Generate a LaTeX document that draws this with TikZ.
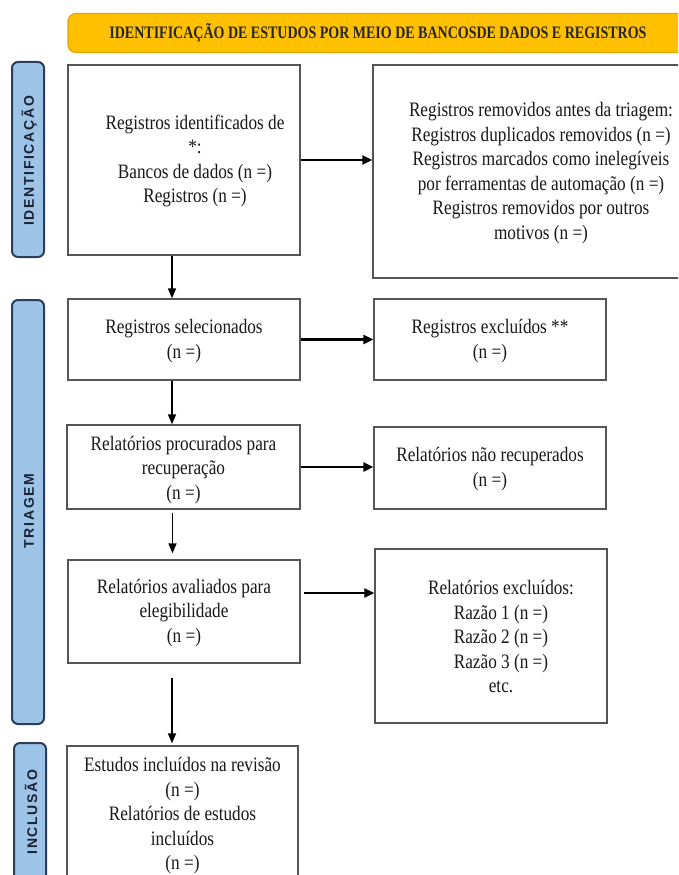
\documentclass[tikz,border=0pt]{standalone}
\usepackage{fontspec}
\setmainfont{Liberation Serif}[FakeStretch=0.84]
\newfontfamily\bannerfont{Liberation Serif}[FakeStretch=0.8]
\newfontfamily\sidefont{Liberation Sans}[LetterSpace=12]
\usetikzlibrary{arrows.meta}
\definecolor{gold}{HTML}{FFC000}
\definecolor{goldedge}{HTML}{E3A600}
\definecolor{sideblue}{HTML}{9DC3E6}
\definecolor{sideedge}{HTML}{2B3E5C}
\definecolor{sidetext}{HTML}{1A2233}
\definecolor{boxedge}{HTML}{555555}
\begin{document}
\begin{tikzpicture}[x=1pt,y=-1pt,
  box/.style={draw=boxedge,line width=1.3pt,fill=white,inner sep=0pt},
  txt/.style={align=center,inner sep=0pt,font=\fontsize{20.5}{24.5}\selectfont,text=black!90},
  sidebar/.style={draw=sideedge,fill=sideblue,line width=2pt,rounded corners=6pt,inner sep=0pt},
  sidelabel/.style={rotate=90,text=sidetext,font=\sidefont\bfseries\fontsize{14}{16}\selectfont},
  harrow/.style={-{Triangle[length=10pt,width=9pt]},line width=2.2pt},
  varrow/.style={-{Triangle[length=10pt,width=8pt]},line width=1.5pt}]
\clip (0,0) rectangle (678,875);
\fill[white] (0,0) rectangle (678,875);

% banner
\node[draw=goldedge,fill=gold,line width=1.2pt,rounded corners=8pt,minimum width=630pt,minimum height=39pt,inner sep=0pt]
  (banner) at (383,33) {};
\node[font=\bannerfont\bfseries\fontsize{17.5}{19}\selectfont,text=black!85] (bannert) at (378,33)
  {IDENTIFICAÇÃO DE ESTUDOS POR MEIO DE BANCOSDE DADOS E REGISTROS};

% side bars
\node[sidebar,minimum width=32pt,minimum height=195pt] (sid) at (28,159.5) {};
\node[sidelabel] (sidt) at (29,161) {IDENTIFICAÇÃO};
\node[sidebar,minimum width=32pt,minimum height=424pt] (stri) at (28,512) {};
\node[sidelabel] (strit) at (29,511) {TRIAGEM};
\node[sidebar,minimum width=32pt,minimum height=160pt] (sinc) at (30,823) {};
\node[sidelabel] (sinct) at (31,812) {INCLUSÃO};

% left column
\node[box,minimum width=232pt,minimum height=190pt] (b1) at (184,160) {};
\node[txt] (b1t) at (195,161) {Registros identificados de\\*:\\Bancos de dados (n =)\\Registros (n =)};
\node[box,minimum width=232pt,minimum height=81pt] (b2) at (184,339.5) {};
\node[txt] (b2t) at (184,341) {Registros selecionados\\(n =)};
\node[box,minimum width=233pt,minimum height=84pt] (b3) at (183.5,467) {};
\node[txt] (b3t) at (183.5,470) {Relatórios procurados para\\recuperação\\(n =)};
\node[box,minimum width=232pt,minimum height=103pt] (b4) at (184,611.5) {};
\node[txt] (b4t) at (184,613) {Relatórios avaliados para\\elegibilidade\\(n =)};
\node[box,minimum width=231pt,minimum height=150pt] (b5) at (182.5,821) {};
\node[txt] (b5t) at (182.5,816) {Estudos incluídos na revisão\\(n =)\\Relatórios de estudos\\incluídos\\(n =)};

% right column
\node[box,minimum width=336pt,minimum height=213pt] (r1) at (541,171.5) {};
\node[txt] (r1t) at (541,173) {Registros removidos antes da triagem:\\Registros duplicados removidos (n =)\\Registros marcados como inelegíveis\\por ferramentas de automação (n =)\\Registros removidos por outros\\motivos (n =)};
\node[box,minimum width=232pt,minimum height=81pt] (r2) at (490,339.5) {};
\node[txt] (r2t) at (490,341) {Registros excluídos **\\(n =)};
\node[box,minimum width=232pt,minimum height=82pt] (r3) at (490,468) {};
\node[txt] (r3t) at (490,469) {Relatórios não recuperados\\(n =)};
\node[box,minimum width=232pt,minimum height=174pt] (r4) at (491,636) {};
\node[txt] (r4t) at (501,637) {Relatórios excluídos:\\Razão 1 (n =)\\Razão 2 (n =)\\Razão 3 (n =)\\etc.};

% arrows
\coordinate (b4a) at ([yshift=18.5pt]b4.east);
\coordinate (v1) at ([xshift=-12pt]b1.south);
\coordinate (v2) at ([xshift=-12pt]b2.south);
\coordinate (v3) at ([xshift=-11pt]b3.south);
\coordinate (v4) at ([xshift=-12pt]b4.south);
\draw[harrow] (b1.east) -- (r1.west |- b1.east);
\draw[harrow] (b2.east) -- (r2.west);
\draw[harrow] (b3.east) -- (r3.west |- b3.east);
\draw[harrow,shorten <=3pt] (b4a) -- (b4a -| r4.west);
\draw[varrow] (v1) -- (v1 |- b2.north);
\draw[varrow] (v2) -- (v2 |- b3.north);
\draw[varrow,shorten <=3pt,shorten >=6pt] (v3) -- (v3 |- b4.north);
\draw[varrow,shorten <=14pt,shorten >=2pt] (v4) -- (v4 |- b5.north);
\end{tikzpicture}
\end{document}
